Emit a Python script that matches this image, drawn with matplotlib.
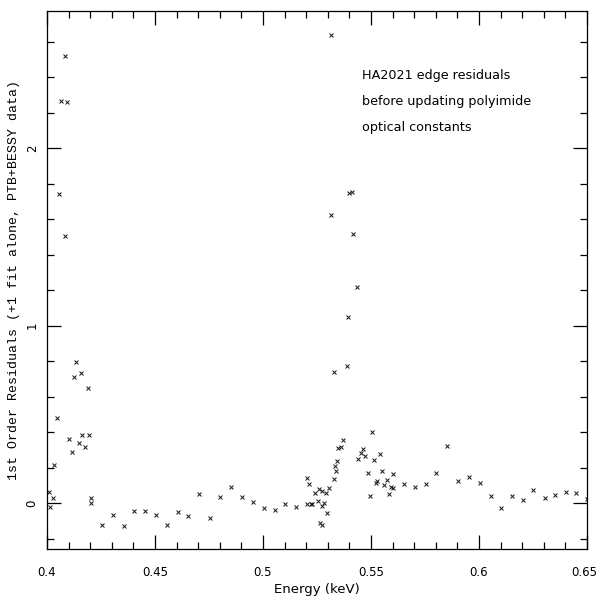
import numpy as np
import matplotlib
matplotlib.use("Agg")
import matplotlib.pyplot as plt
import matplotlib.transforms as mtransforms
from matplotlib.ticker import MultipleLocator

# Energie (keV) og residualer lest av fra figuren
energy = [
    0.4083, 0.4063, 0.4094, 0.4056, 0.4085,
    0.4134, 0.4156, 0.4124, 0.4188, 0.4045, 0.4103, 0.4163, 0.4196, 0.4147,
    0.4176, 0.4114, 0.4032, 0.4026, 0.4014, 0.4009, 0.4204, 0.4204, 0.4253,
    0.4304, 0.4356, 0.4404, 0.4455, 0.4505,
    0.4556, 0.4605, 0.4654, 0.4704, 0.4753, 0.4802, 0.4853, 0.4903, 0.4952,
    0.5005, 0.5054, 0.5103, 0.5154,
    0.5202, 0.5202, 0.5213, 0.5227, 0.5222, 0.5241, 0.5261, 0.5275, 0.5292,
    0.5256, 0.5272, 0.5284, 0.5296, 0.5265, 0.5274, 0.5307, 0.5327, 0.5339,
    0.5333, 0.5343, 0.5349, 0.5361, 0.5372,
    0.5317, 0.5400, 0.5412, 0.5313, 0.5418, 0.5437, 0.5392, 0.5388, 0.5327,
    0.5462, 0.5452, 0.5441, 0.5474, 0.5512, 0.5540, 0.5503, 0.5485, 0.5551,
    0.5603, 0.5573, 0.5529, 0.5523, 0.5562, 0.5591, 0.5603, 0.5582, 0.5495,
    0.5654, 0.5702, 0.5753, 0.5800,
    0.5850, 0.5904, 0.5952, 0.6003, 0.6054, 0.6100, 0.6151, 0.6202, 0.6251,
    0.6304, 0.6353, 0.6401, 0.6449, 0.6499,
]
residual = [
    2.518, 2.266, 2.261, 1.740, 1.504,
    0.796, 0.734, 0.712, 0.650, 0.481, 0.359, 0.383, 0.381, 0.340,
    0.317, 0.289, 0.214, 0.030, -0.021, 0.062, 0.030, 0.002, -0.124,
    -0.068, -0.130, -0.043, -0.043, -0.068,
    -0.126, -0.052, -0.072, 0.051, -0.083, 0.032, 0.092, 0.035, 0.007,
    -0.030, -0.039, -0.007, -0.024,
    -0.007, 0.143, 0.105, -0.006, -0.004, 0.055, 0.081, 0.069, 0.055,
    0.011, -0.017, 0.002, -0.058, -0.115, -0.121, 0.083, 0.137, 0.182,
    0.208, 0.237, 0.312, 0.315, 0.355,
    2.637, 1.748, 1.752, 1.623, 1.514, 1.215, 1.050, 0.772, 0.738,
    0.304, 0.280, 0.248, 0.265, 0.242, 0.276, 0.402, 0.171, 0.182,
    0.162, 0.130, 0.124, 0.114, 0.101, 0.092, 0.083, 0.051, 0.041,
    0.105, 0.092, 0.107, 0.167,
    0.321, 0.126, 0.145, 0.114, 0.041, -0.026, 0.039, 0.019, 0.072,
    0.030, 0.043, 0.064, 0.058, 0.024,
]

xtick_vals = [0.4, 0.45, 0.5, 0.55, 0.6, 0.65]
xtick_labels = ["0.4", "0.45", "0.5", "0.55", "0.6", "0.65"]
ytick_vals = [0, 1, 2]
ytick_labels = ["0", "1", "2"]
note_lines = ["HA2021 edge residuals", "before updating polyimide", "optical constants"]

fig = plt.figure(figsize=(5.97, 6.0), dpi=100)
ax = fig.add_axes([47 / 597, 1 - 549 / 600, 540 / 597, 538 / 600])

ax.plot(energy, residual, linestyle="none", marker="x", markersize=3.0,
        markeredgewidth=0.75, color="#222222", clip_on=True)

ax.set_xlim(0.4, 0.65)
ax.set_ylim(-0.259, 2.772)

ax.xaxis.set_minor_locator(MultipleLocator(0.01))
ax.yaxis.set_minor_locator(MultipleLocator(0.2))
ax.set_xticks(xtick_vals)
ax.set_xticklabels(xtick_labels)
ax.set_yticks(ytick_vals)
ax.set_yticklabels(ytick_labels)

ax.tick_params(which="both", direction="in", top=True, right=True, width=0.9)
ax.tick_params(which="major", length=10)
ax.tick_params(which="minor", length=5)
ax.tick_params(axis="x", labelsize=8.5, pad=12)
ax.tick_params(axis="y", labelsize=8.5, pad=6, labelrotation=90)
for lab in ax.get_yticklabels():
    lab.set_va("center")
# siste etikett litt inn så den ikke kuttes
last = ax.get_xticklabels()[-1]
last.set_transform(last.get_transform() + mtransforms.ScaledTranslation(-3 / 100, 0, fig.dpi_scale_trans))
for sp in ax.spines.values():
    sp.set_linewidth(0.9)

ax.set_xlabel("Energy (keV)", fontsize=9.5, family="DejaVu Sans", labelpad=3)
ax.set_ylabel("1st Order Residuals (+1 fit alone, PTB+BESSY data)",
              fontsize=9.5, family="Liberation Mono", labelpad=4)

for i, line in enumerate(note_lines):
    fig.text(362 / 597, 1 - (75 + 26.5 * i) / 600, line, fontsize=9.2,
             family="DejaVu Sans", va="center", ha="left")

fig.savefig("out.png", dpi=100)
